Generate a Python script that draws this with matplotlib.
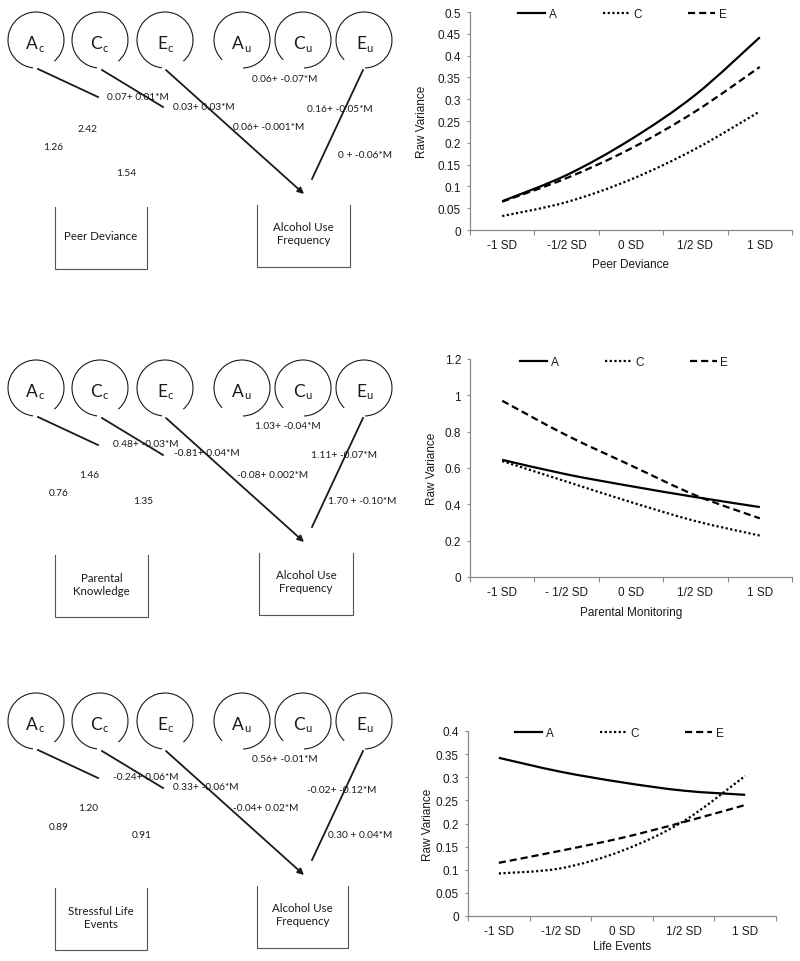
import numpy as np
import matplotlib
matplotlib.use("Agg")
import matplotlib.pyplot as plt
from matplotlib.patches import Arc, PathPatch
from matplotlib.path import Path
from matplotlib.lines import Line2D

# ---------------- data ----------------
levels_peer = ['-1 SD', '-1/2 SD', '0 SD', '1/2 SD', '1 SD']
levels_par = ['-1 SD', '- 1/2 SD', '0 SD', '1/2 SD', '1 SD']
levels_life = ['-1 SD', '-1/2 SD', '0 SD', '1/2 SD', '1 SD']

peer_A = [0.066, 0.126, 0.208, 0.310, 0.442]
peer_C = [0.032, 0.064, 0.116, 0.186, 0.272]
peer_E = [0.065, 0.119, 0.187, 0.272, 0.374]

par_A = [0.645, 0.565, 0.500, 0.440, 0.385]
par_C = [0.638, 0.525, 0.412, 0.308, 0.228]
par_E = [0.970, 0.780, 0.614, 0.450, 0.323]

life_A = [0.342, 0.312, 0.289, 0.271, 0.262]
life_C = [0.092, 0.103, 0.141, 0.205, 0.303]
life_E = [0.115, 0.141, 0.169, 0.203, 0.240]

yticks_peer = [0, 0.05, 0.1, 0.15, 0.2, 0.25, 0.3, 0.35, 0.4, 0.45, 0.5]
yticks_par = [0, 0.2, 0.4, 0.6, 0.8, 1.0, 1.2]
yticks_life = [0, 0.05, 0.1, 0.15, 0.2, 0.25, 0.3, 0.35, 0.4]
yticklabels_peer = ['0', '0.05', '0.1', '0.15', '0.2', '0.25', '0.3', '0.35', '0.4', '0.45', '0.5']
yticklabels_par = ['0', '0.2', '0.4', '0.6', '0.8', '1', '1.2']
yticklabels_life = ['0', '0.05', '0.1', '0.15', '0.2', '0.25', '0.3', '0.35', '0.4']

xlabels = ['Peer Deviance', 'Parental Monitoring', 'Life Events']
series_names = ['A', 'C', 'E']

factor_names = [('A', 'c'), ('C', 'c'), ('E', 'c'), ('A', 'u'), ('C', 'u'), ('E', 'u')]
moderator_boxes = ['Peer Deviance', 'Parental\nKnowledge', 'Stressful Life\nEvents']
outcome_box = 'Alcohol Use\nFrequency'

# path labels: common A, common C, common E, unique A, unique C, unique E
path_labels = [
    ['0.07+ 0.01*M', '0.03+ 0.03*M', '0.06+ -0.001*M', '0.06+ -0.07*M', '0.16+ -0.05*M', '0 + -0.06*M'],
    ['0.48+ -0.03*M', '-0.81+ 0.04*M', '-0.08+ 0.002*M', '1.03+ -0.04*M', '1.11+ -0.07*M', '1.70 + -0.10*M'],
    ['-0.24+ 0.06*M', '0.33+ -0.06*M', '-0.04+ 0.02*M', '0.56+ -0.01*M', '-0.02+ -0.12*M', '0.30 + 0.04*M'],
]
moderator_paths = [
    ['2.42', '1.26', '1.54'],
    ['1.46', '0.76', '1.35'],
    ['1.20', '0.89', '0.91'],
]

# ---------------- figure ----------------
W, H = 800, 962
fig = plt.figure(figsize=(W / 100, H / 100), dpi=100)
ax0 = fig.add_axes([0, 0, 1, 1])
ax0.set_xlim(0, W)
ax0.set_ylim(H, 0)
ax0.axis('off')

DFONT = ['Lato', 'DejaVu Sans']
CFONT = ['Liberation Sans', 'DejaVu Sans']
ink = '#1a1a1a'

circle_x = [36, 100, 165, 242, 303, 364]
R = 28
panel_cy = [41, 389, 722]
# label layouts per panel: (x_left, dy) for 6 path labels, (x_center, dy) for 3 moderator values
lab_pos = [
    [(107, 57), (173, 66), (233, 87), (252, 39), (307, 68), (338, 114)],
    [(113, 56), (174, 65), (237, 87), (255, 38), (311, 67), (328, 113)],
    [(113, 56), (173, 66), (233, 87), (252, 38), (307, 69), (328, 114)],
]
mod_pos = [
    [(88, 88), (53, 107), (126, 133)],
    [(89, 87), (59, 105), (143, 113)],
    [(88, 87), (59, 106), (142, 114)],
]
box_left = [(55, 147), (55, 148), (55, 147)]
box_right = [(257, 350), (259, 353), (257, 348)]

for p in range(3):
    cy = panel_cy[p]
    for i, (big, sub) in enumerate(factor_names):
        cx = circle_x[i]
        if sub == 'c':
            t1, t2 = 96, 49 + 360
        else:
            t1, t2 = 135, 88 + 360
        ax0.add_patch(Arc((cx, cy), 2 * R, 2 * R, theta1=t1, theta2=t2,
                          color=ink, lw=0.8))
        ax0.text(cx + 2, cy + 3, big, fontsize=12.5, family=DFONT, ha='right',
                 va='center', color=ink)
        ax0.text(cx + 2.5, cy + 7, sub, fontsize=8, family=DFONT, ha='left',
                 va='center', color=ink)
    # paths
    ax0.plot([38, 98], [cy + 29, cy + 57], color=ink, lw=1.3)
    ax0.plot([102, 163], [cy + 30, cy + 67], color=ink, lw=1.3)
    ax0.plot([363, 312], [cy + 30, cy + 139], color=ink, lw=1.3)
    ax0.annotate('', xy=(304, cy + 154), xytext=(166, cy + 30),
                 arrowprops=dict(arrowstyle='-|>', color=ink, lw=1.3,
                                 mutation_scale=9, shrinkA=0, shrinkB=0))
    for j, txt in enumerate(path_labels[p]):
        x, dy = lab_pos[p][j]
        ax0.text(x, cy + dy, txt, fontsize=7.3, family=DFONT, ha='left',
                 va='center', color=ink)
    for j, txt in enumerate(moderator_paths[p]):
        x, dy = mod_pos[p][j]
        ax0.text(x, cy + dy, txt, fontsize=7.3, family=DFONT, ha='center',
                 va='center', color=ink)
    # boxes (open at top)
    for (xl, xr), top_dy in ((box_left[p], 167), (box_right[p], 165)):
        top = cy + top_dy
        bot = top + 62
        ax0.plot([xl, xl, xr, xr], [top, bot, bot, top], color='#555555', lw=0.8)
    xl, xr = box_left[p]
    ax0.text((xl + xr) / 2, cy + 196, moderator_boxes[p], fontsize=8.3,
             family=DFONT, ha='center', va='center', color=ink, linespacing=1.25)
    xl, xr = box_right[p]
    ax0.text((xl + xr) / 2, cy + 193, outcome_box, fontsize=8.3,
             family=DFONT, ha='center', va='center', color=ink, linespacing=1.25)


# ---------------- line charts ----------------
def smooth_path(xs, ys):
    pts = np.column_stack([xs, ys]).astype(float)
    n = len(pts)
    verts = [pts[0]]
    codes = [Path.MOVETO]
    for i in range(n - 1):
        p0 = pts[max(i - 1, 0)]
        p1 = pts[i]
        p2 = pts[i + 1]
        p3 = pts[min(i + 2, n - 1)]
        c1 = p1 + (p2 - p0) / 6.0
        c2 = p2 - (p3 - p1) / 6.0
        verts += [c1, c2, p2]
        codes += [Path.CURVE4] * 3
    return Path(verts, codes)


styles = {
    'A': dict(linestyle='-', lw=1.6),
    'C': dict(linestyle=(0, (1, 1.1)), lw=1.6),
    'E': dict(linestyle=(0, (3.2, 1.8)), lw=1.6),
}

charts = [
    (levels_peer, [peer_A, peer_C, peer_E], yticks_peer, yticklabels_peer, 0.5,
     [470, 792, 13, 231], 0.149, 0.991, 48, 34),
    (levels_par, [par_A, par_C, par_E], yticks_par, yticklabels_par, 1.2,
     [470, 792, 360, 578], 0.155, 0.986, 38, 35),
    (levels_life, [life_A, life_C, life_E], yticks_life, yticklabels_life, 0.4,
     [468, 776, 732, 917], 0.153, 0.989, 40, 30),
]

spine_c = '#8a8a8a'
for k, (levels, series, yt, ytl, ymax, box, lgx, lgy, ylpad, xlpad) in enumerate(charts):
    x0, x1, ytop, ybot = box
    ax = fig.add_axes([x0 / W, (H - ybot) / H, (x1 - x0) / W, (ybot - ytop) / H])
    ax.set_xlim(-0.5, len(levels) - 0.5)
    ax.set_ylim(0, ymax)
    xs = np.arange(len(levels))
    handles = []
    for name, vals in zip(series_names, series):
        st = styles[name]
        ax.add_patch(PathPatch(smooth_path(xs, vals), fill=False, edgecolor='black',
                               lw=st['lw'], linestyle=st['linestyle'],
                               capstyle='butt', clip_on=False))
        handles.append(Line2D([], [], color='black', lw=st['lw'],
                              linestyle=st['linestyle']))
    for s in ['top', 'right']:
        ax.spines[s].set_visible(False)
    for s in ['left', 'bottom']:
        ax.spines[s].set_color(spine_c)
        ax.spines[s].set_linewidth(0.9)
    ax.set_yticks(yt)
    ax.set_yticklabels(ytl, family=CFONT, fontsize=8.5, color=ink)
    ax.set_xticks(xs)
    ax.set_xticklabels(levels, family=CFONT, fontsize=8.5, color=ink)
    ax.set_xticks(np.arange(len(levels) + 1) - 0.5, minor=True)
    ax.tick_params(axis='y', length=2.5, width=0.8, color=spine_c, pad=4)
    ax.tick_params(axis='x', which='major', length=0, pad=6.5)
    ax.tick_params(axis='x', which='minor', length=3.5, width=0.8, color=spine_c)
    ax.set_ylabel('Raw Variance', family=CFONT, fontsize=8.5, color=ink)
    ax.yaxis.set_label_coords(-ylpad / (x1 - x0), 0.5)
    ax.yaxis.label.set_va('center')
    ax.set_xlabel(xlabels[k], family=CFONT, fontsize=8.5, color=ink)
    ax.xaxis.set_label_coords(0.5, -xlpad / (ybot - ytop))
    ax.xaxis.label.set_va('center')
    leg = ax.legend(handles, series_names, loc='center left', bbox_to_anchor=(lgx, lgy),
                    ncol=3, frameon=False, borderaxespad=0, borderpad=0,
                    handlelength=2.3, handletextpad=0.3, columnspacing=3.9,
                    prop={'family': CFONT, 'size': 8.5})
    for t in leg.get_texts():
        t.set_color(ink)

fig.savefig('out.png', dpi=100)
